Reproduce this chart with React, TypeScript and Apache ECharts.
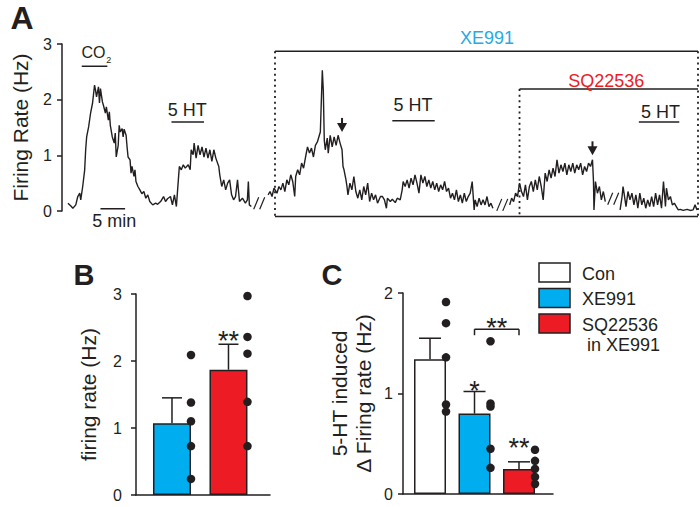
import React, { useEffect, useRef } from "react";
import * as echarts from "echarts";

const FONT = '"Liberation Sans", Arial, Helvetica, sans-serif';
const INK = "#231f20";
const BLUE = "#00aeef";
const RED = "#ed1c24";
const XE_TEXT = "#27aae1";

// ---------- Panel A: firing-rate trace, [minutes, Hz] ----------
const traceSeg1 = [
  [0.2, 0.14], [0.8, 0.09], [1.2, 0.05], [1.8, 0.11], [2.2, 0.26], [2.6, 0.32], [2.8, 0.2], [3.2, 0.44],
  [3.6, 0.74], [3.8, 1.1], [4.0, 1.33], [4.4, 1.51], [4.8, 1.76], [5.2, 1.94], [5.6, 2.26], [5.8, 2.17],
  [6.0, 2.05], [6.4, 2.23], [6.6, 1.94], [6.8, 2.2], [7.2, 1.96], [7.4, 1.9], [7.8, 1.76], [8.0, 1.87],
  [8.4, 1.63], [8.6, 1.78], [8.8, 1.54], [9.2, 1.33], [9.6, 1.22], [9.8, 1.4], [10.0, 0.97], [10.4, 1.18],
  [10.6, 1.54], [10.8, 1.42], [11.2, 1.48], [11.4, 1.33], [11.6, 1.47], [12.0, 1.36], [12.2, 1.15],
  [12.4, 0.97], [12.8, 0.92], [13.0, 0.68], [13.2, 0.8], [13.6, 0.62], [13.8, 0.74], [14.0, 0.53],
  [14.4, 0.44], [14.8, 0.38], [15.2, 0.31], [15.6, 0.35], [16.0, 0.23], [16.4, 0.29], [16.8, 0.17],
  [17.4, 0.11], [18.0, 0.14], [18.4, 0.12], [19.0, 0.17], [19.6, 0.26], [20.0, 0.17], [20.4, 0.22],
  [21.0, 0.26], [21.4, 0.11], [21.8, 0.29], [22.2, 0.08], [22.6, 0.56], [22.8, 0.8], [23.2, 0.74],
  [23.6, 0.83], [24.0, 0.77], [24.6, 0.83], [25.0, 0.74], [25.2, 1.1], [25.6, 1.01], [25.8, 1.22],
  [26.2, 0.95], [26.6, 1.18], [27.0, 1.01], [27.4, 1.15], [27.8, 0.97], [28.2, 1.13], [28.6, 0.95],
  [29.0, 1.1], [29.4, 0.89], [29.8, 1.1], [30.2, 0.95], [30.8, 0.8], [31.0, 0.65], [31.4, 0.44],
  [31.8, 0.56], [32.2, 0.38], [32.6, 0.5], [33.0, 0.56], [33.4, 0.29], [33.8, 0.2], [34.2, 0.26],
  [34.6, 0.56], [35.0, 0.17], [35.6, 0.23], [36.2, 0.14], [36.6, 0.2], [36.8, 0.53], [37.0, 0.11],
  [37.4, 0.08],
];
const traceSeg2 = [
  [40.8, 0.29], [41.2, 0.35], [41.6, 0.26], [42.0, 0.41], [42.6, 0.32], [43.0, 0.44], [43.4, 0.38],
  [43.8, 0.5], [44.2, 0.35], [44.6, 0.56], [45.0, 0.47], [45.4, 0.65], [45.8, 0.53], [46.2, 0.26],
  [46.4, 0.62], [46.8, 0.74], [47.2, 0.65], [47.6, 0.86], [48.0, 0.77], [48.4, 0.97], [48.8, 1.15],
  [49.2, 1.04], [49.6, 1.13], [50.0, 0.97], [50.4, 1.18], [50.8, 1.24], [51.2, 1.36], [51.4, 1.42],
  [51.8, 2.53], [52.0, 2.17], [52.2, 1.27], [52.4, 1.1], [52.8, 1.31], [53.0, 1.04], [53.4, 1.36],
  [53.8, 1.15], [54.2, 1.33], [54.6, 1.18], [55.0, 1.36], [55.4, 1.22], [55.8, 1.1], [56.0, 0.8],
  [56.2, 0.74], [56.6, 0.56], [56.8, 0.44], [57.0, 0.29], [57.4, 0.5], [57.8, 0.38], [58.2, 0.62],
  [58.6, 0.35], [59.0, 0.23], [59.4, 0.38], [59.8, 0.2], [60.2, 0.44], [60.6, 0.29], [61.0, 0.5],
  [61.4, 0.17], [61.8, 0.32], [62.2, 0.2], [62.6, 0.29], [63.0, 0.14], [63.6, 0.26], [64.0, 0.26],
  [64.4, 0.2], [64.8, 0.05], [65.0, 0.23], [65.6, 0.17], [66.0, 0.21], [66.6, 0.15], [67.0, 0.23],
  [67.6, 0.2], [68.0, 0.38], [68.2, 0.53], [68.6, 0.44], [69.0, 0.56], [69.4, 0.41], [69.8, 0.59],
  [70.2, 0.47], [70.6, 0.65], [71.0, 0.5], [71.4, 0.32], [71.8, 0.65], [72.2, 0.5], [72.6, 0.62],
  [73.0, 0.44], [73.4, 0.56], [73.8, 0.41], [74.2, 0.53], [74.6, 0.38], [75.0, 0.5], [75.4, 0.35],
  [75.8, 0.47], [76.2, 0.38], [76.6, 0.53], [77.0, 0.35], [77.4, 0.41], [77.8, 0.23], [78.2, 0.32],
  [78.6, 0.2], [79.0, 0.38], [79.4, 0.17], [79.8, 0.29], [80.2, 0.14], [80.6, 0.32], [81.0, 0.17],
  [81.4, 0.26], [81.8, 0.32], [82.2, 0.53], [82.6, 0.02], [82.8, 0.2], [83.2, 0.08], [83.6, 0.23],
  [84.0, 0.11], [84.4, 0.2], [84.8, 0.11], [85.2, 0.26], [85.6, 0.08], [86.0, 0.14], [86.4, 0.05],
];
const traceSeg3 = [
  [89.8, 0.11], [90.2, 0.23], [90.6, 0.17], [91.0, 0.32], [91.4, 0.26], [91.8, 0.5], [92.2, 0.35],
  [92.6, 0.26], [93.0, 0.47], [93.4, 0.2], [93.8, 0.44], [94.2, 0.53], [94.6, 0.35], [95.0, 0.56],
  [95.4, 0.38], [95.8, 0.62], [96.2, 0.44], [96.6, 0.2], [97.0, 0.68], [97.4, 0.53], [97.8, 0.74],
  [98.2, 0.59], [98.6, 0.77], [99.0, 0.62], [99.4, 0.92], [99.8, 0.68], [100.2, 0.83], [100.6, 0.71],
  [101.0, 0.86], [101.4, 0.65], [101.8, 0.83], [102.2, 0.71], [102.6, 0.86], [103.0, 0.68],
  [103.4, 0.83], [103.8, 0.74], [104.2, 0.86], [104.6, 0.65], [105.0, 0.8], [105.4, 0.71],
  [105.8, 0.86], [106.2, 0.8], [106.6, 0.92], [106.8, 0.53], [106.9, 0.02], [107.2, 0.53],
  [107.6, 0.32], [108.0, 0.44], [108.4, 0.2], [108.8, 0.35], [109.2, 0.17],
];
const traceSeg4 = [
  [112.2, 0.02], [112.6, 0.26], [112.8, 0.44], [113.0, 0.32], [113.4, 0.08], [113.8, 0.35],
  [114.2, 0.2], [114.6, 0.32], [115.0, 0.11], [115.4, 0.29], [115.8, 0.05], [116.2, 0.32],
  [116.6, 0.11], [117.0, 0.23], [117.4, 0.05], [117.8, 0.2], [118.2, 0.08], [118.6, 0.26],
  [119.0, 0.08], [119.4, 0.32], [119.8, 0.11], [120.2, 0.29], [120.6, 0.05], [121.0, 0.53],
  [121.4, 0.08], [121.6, 0.41], [122.0, 0.2], [122.4, 0.26], [122.8, 0.11], [123.2, 0.14],
  [123.6, 0.08], [124.0, 0.02], [124.4, 0.03], [125.0, 0.01], [125.8, 0.03], [126.4, 0.01],
  [127.0, 0.02], [127.4, 0.11], [127.8, 0.02],
];
const traceSegments = [traceSeg1, traceSeg2, traceSeg3, traceSeg4];
const aTicks = [0, 1, 2, 3];

// ---------- Panel B ----------
const bCategories = ["XE991", "SQ22536"];
const bMeans = [1.07, 1.87];
const bSem = [0.38, 0.38];
const bPoints = [
  [2.09, 1.38, 1.1, 0.73, 0.24],
  [2.97, 2.36, 2.11, 1.39, 0.73],
];
const bStars = ["", "**"];

// ---------- Panel C ----------
const cCategories = ["Con", "XE991", "SQ22536 in XE991"];
const cMeans = [1.34, 0.8, 0.25];
const cSem = [0.21, 0.22, 0.07];
const cPoints = [
  [1.91, 1.7, 1.36, 0.89, 0.82],
  [1.52, 0.9, 0.87, 0.45, 0.26],
  [0.44, 0.33, 0.25, 0.17, 0.1],
];
const cStars = ["", "*", "**"];
const cPairStars = "**";

// ---------- styles ----------
const B_COLORS = [BLUE, RED];
const C_COLORS = ["#ffffff", BLUE, RED];
const STAR_SIZE = 27;

function txt(x: number, y: number, text: string, size: number, color = INK, align = "center", weight = "normal") {
  return {
    type: "text",
    x,
    y,
    style: {
      text,
      fill: color,
      font: `${weight} ${size}px ${FONT}`,
      align,
      verticalAlign: "middle",
      textAlign: align,
      textVerticalAlign: "middle",
    },
  };
}
function seg(p: number[], q: number[], dash?: number[], w = 1.5) {
  return {
    type: "line",
    shape: { x1: p[0], y1: p[1], x2: q[0], y2: q[1] },
    style: { stroke: INK, lineWidth: w, lineDash: dash || null },
  };
}

function renderAnnotA(_params: any, api: any) {
  const c = (t: number, v: number) => api.coord([t, v]);
  const dots = [2, 3.6];
  const children: any[] = [];
  // XE991 box
  const xl = 42.2, xr = 128, top = 2.87, bot = -0.1;
  children.push(seg(c(xl, top), c(xr, top)));
  children.push(seg(c(xl, bot), c(xr, bot)));
  children.push(seg(c(xl, top), c(xl, bot), dots, 1.8));
  children.push(seg(c(xr, top), c(xr, bot), dots, 1.8));
  const xe = c(85.2, 3.1);
  children.push(txt(xe[0], xe[1], "XE991", 18, XE_TEXT));
  // SQ22536 bracket
  const sl = 91.8, stop = 2.19;
  children.push(seg(c(sl, stop), c(xr, stop)));
  children.push(seg(c(sl, stop), c(sl, bot), dots, 1.8));
  const sq = c(109.4, 2.33);
  children.push(txt(sq[0], sq[1], "SQ22536", 18, RED));
  // CO2
  children.push(seg(c(3.0, 2.6), c(8.2, 2.6)));
  const co = c(5.4, 2.85);
  children.push(txt(co[0], co[1], "CO", 16));
  const co2 = c(8.5, 2.72);
  children.push(txt(co2[0], co2[1], "2", 9));
  // 5 HT labels
  const hts = [
    [21.2, 27.8, 1.6, 24.4, 1.82],
    [66.0, 74.6, 1.62, 70.2, 1.9],
    [116.0, 124.2, 1.6, 120.4, 1.78],
  ];
  hts.forEach((h) => {
    children.push(seg(c(h[0], h[2]), c(h[1], h[2])));
    const p = c(h[3], h[4]);
    children.push(txt(p[0], p[1], "5 HT", 18));
  });
  // arrows
  [[55.8, 1.42], [106.6, 1.0]].forEach((a) => {
    const p = c(a[0], a[1]);
    children.push(seg([p[0], p[1] - 14], [p[0], p[1] - 8], undefined, 2));
    children.push({
      type: "polygon",
      shape: { points: [[p[0] - 5, p[1] - 9], [p[0] + 5, p[1] - 9], [p[0], p[1]]] },
      style: { fill: INK },
    });
  });
  // scale bar
  children.push(seg(c(6.8, 0.04), c(11.8, 0.04)));
  const sm = c(9.6, -0.18);
  children.push(txt(sm[0], sm[1], "5 min", 18));
  // breaks
  [[39.0, 0.14], [88.3, 0.11], [110.8, 0.22]].forEach((b) => {
    const p = c(b[0], b[1]);
    [-3, 3].forEach((dx) => {
      children.push(seg([p[0] + dx - 2.5, p[1] + 6], [p[0] + dx + 2.5, p[1] - 6], undefined, 1.2));
    });
  });
  return { type: "group", children };
}

function makeErrRender(capHalf: number, stars: string[], lifts: number[]) {
  return (params: any, api: any) => {
    const x = api.value(0), m = api.value(1), e = api.value(2);
    const p0 = api.coord([x, m]);
    const p1 = api.coord([x, m + e]);
    const children: any[] = [
      seg(p0, p1),
      seg([p1[0] - capHalf, p1[1]], [p1[0] + capHalf, p1[1]]),
    ];
    const s = stars[params.dataIndex];
    if (s) children.push(txt(p1[0], p1[1] - lifts[params.dataIndex] + 6, s, STAR_SIZE));
    return { type: "group", children };
  };
}

function renderPair(_params: any, api: any) {
  const y = 1.64, drop = 1.58;
  const a = api.coord([2, y]);
  const b = api.coord([3, y]);
  const a2 = api.coord([2, drop]);
  const b2 = api.coord([3, drop]);
  return {
    type: "group",
    children: [
      seg(a, b),
      seg(a, a2),
      seg(b, b2),
      txt((a[0] + b[0]) / 2, a[1] - 7 + 6, cPairStars, STAR_SIZE),
    ],
  };
}

function yAxis(gridIndex: number, max: number, name: string, nameGap: number, margin: number, lineHeight?: number) {
  return {
    type: "value",
    gridIndex,
    min: 0,
    max,
    interval: 1,
    axisLine: { show: true, onZero: false, lineStyle: { color: INK, width: 1.5 } },
    axisTick: { show: true, inside: false, length: 5, lineStyle: { color: INK, width: 1.5 } },
    axisLabel: { color: INK, fontSize: 16, fontFamily: FONT, margin },
    splitLine: { show: false },
    name,
    nameLocation: "middle",
    nameGap,
    nameRotate: 90,
    nameTextStyle: { color: INK, fontSize: 21, fontFamily: FONT, lineHeight: lineHeight || 24 },
  };
}
function xAxisBar(gridIndex: number, min: number, max: number) {
  return {
    type: "value",
    gridIndex,
    min,
    max,
    axisLine: { show: true, onZero: true, lineStyle: { color: INK, width: 1.5 } },
    axisTick: { show: false },
    axisLabel: { show: false },
    splitLine: { show: false },
  };
}

function buildOption() {
  const series: any[] = [];
  traceSegments.forEach((s, i) => {
    series.push({
      type: "line",
      name: "trace" + i,
      xAxisIndex: 0,
      yAxisIndex: 0,
      data: s,
      showSymbol: false,
      symbol: "none",
      lineStyle: { color: INK, width: 1.4 },
      z: 3,
    });
  });
  series.push({
    type: "custom",
    xAxisIndex: 0,
    yAxisIndex: 0,
    clip: false,
    data: [[0, 0]],
    renderItem: renderAnnotA,
    z: 4,
  });
  // Panel B
  series.push({
    type: "bar",
    name: "B",
    xAxisIndex: 1,
    yAxisIndex: 1,
    barWidth: 38,
    data: bMeans.map((v, i) => ({
      name: bCategories[i],
      value: [i + 1, v],
      itemStyle: { color: B_COLORS[i], borderColor: INK, borderWidth: 1.5 },
    })),
    z: 2,
  });
  series.push({
    type: "custom",
    xAxisIndex: 1,
    yAxisIndex: 1,
    clip: false,
    data: bMeans.map((m, i) => [i + 1, m, bSem[i]]),
    renderItem: makeErrRender(10, bStars, [0, 9]),
    z: 3,
  });
  series.push({
    type: "scatter",
    xAxisIndex: 1,
    yAxisIndex: 1,
    symbolSize: 8.5,
    symbolOffset: [19, 0],
    itemStyle: { color: INK, opacity: 1 },
    data: bPoints.flatMap((arr, i) => arr.map((v) => [i + 1, v])),
    z: 4,
  });
  // Panel C
  series.push({
    type: "bar",
    name: "C",
    xAxisIndex: 2,
    yAxisIndex: 2,
    barWidth: 32,
    data: cMeans.map((v, i) => ({
      name: cCategories[i],
      value: [i + 1, v],
      itemStyle: { color: C_COLORS[i], borderColor: INK, borderWidth: 1.5 },
    })),
    z: 2,
  });
  series.push({
    type: "custom",
    xAxisIndex: 2,
    yAxisIndex: 2,
    clip: false,
    data: cMeans.map((m, i) => [i + 1, m, cSem[i]]),
    renderItem: makeErrRender(11, cStars, [0, 6.5, 20]),
    z: 3,
  });
  series.push({
    type: "scatter",
    xAxisIndex: 2,
    yAxisIndex: 2,
    symbolSize: 8.5,
    symbolOffset: [16, 0],
    itemStyle: { color: INK, opacity: 1 },
    data: cPoints.flatMap((arr, i) => arr.map((v) => [i + 1, v])),
    z: 4,
  });
  series.push({
    type: "custom",
    xAxisIndex: 2,
    yAxisIndex: 2,
    clip: false,
    data: [[0, 0]],
    renderItem: renderPair,
    z: 4,
  });

  const legendGraphics: any[] = [];
  const legendTexts = [["Con"], ["XE991"], ["SQ22536", " in XE991"]];
  cCategories.forEach((_, i) => {
    const y = 263 + i * 25.5;
    legendGraphics.push({
      type: "rect",
      shape: { x: 539, y, width: 31, height: 19 },
      style: { fill: C_COLORS[i], stroke: INK, lineWidth: 1.5 },
    });
    legendTexts[i].forEach((t, k) => {
      legendGraphics.push(txt(582, y + 10.5 + k * 20.5, t, 18, INK, "left"));
    });
  });

  return {
    animation: false,
    backgroundColor: "#ffffff",
    textStyle: { fontFamily: FONT },
    grid: [
      { left: 53, top: 44, width: 645, height: 167 },
      { left: 136, top: 294, width: 134, height: 201 },
      { left: 403, top: 293, width: 150, height: 201 },
    ],
    xAxis: [
      { type: "value", gridIndex: 0, min: -1, max: 128, show: false },
      xAxisBar(1, 0.363, 2.735),
      xAxisBar(2, 0.393, 3.764),
    ],
    yAxis: [
      yAxis(0, aTicks[aTicks.length - 1], "Firing Rate (Hz)", 30, 10),
      yAxis(1, 3, "firing rate (Hz)", 36, 14),
      yAxis(2, 2, "5-HT induced\n\u0394 Firing rate (Hz)", 28, 10, 24),
    ],
    graphic: [
      txt(22, 18, "A", 32, INK, "center", "bold"),
      txt(84, 275, "B", 29, INK, "center", "bold"),
      txt(332, 275, "C", 29, INK, "center", "bold"),
      ...legendGraphics,
    ],
    series,
  };
}

export default function App() {
  const ref = useRef<HTMLDivElement>(null);
  useEffect(() => {
    const chart = echarts.init(ref.current!, undefined, { renderer: "svg" });
    chart.setOption(buildOption() as any);
    return () => chart.dispose();
  }, []);
  return (
    <div
      ref={ref}
      style={{ position: "fixed", left: 0, top: 0, width: 700, height: 507, background: "#fff" }}
    />
  );
}
